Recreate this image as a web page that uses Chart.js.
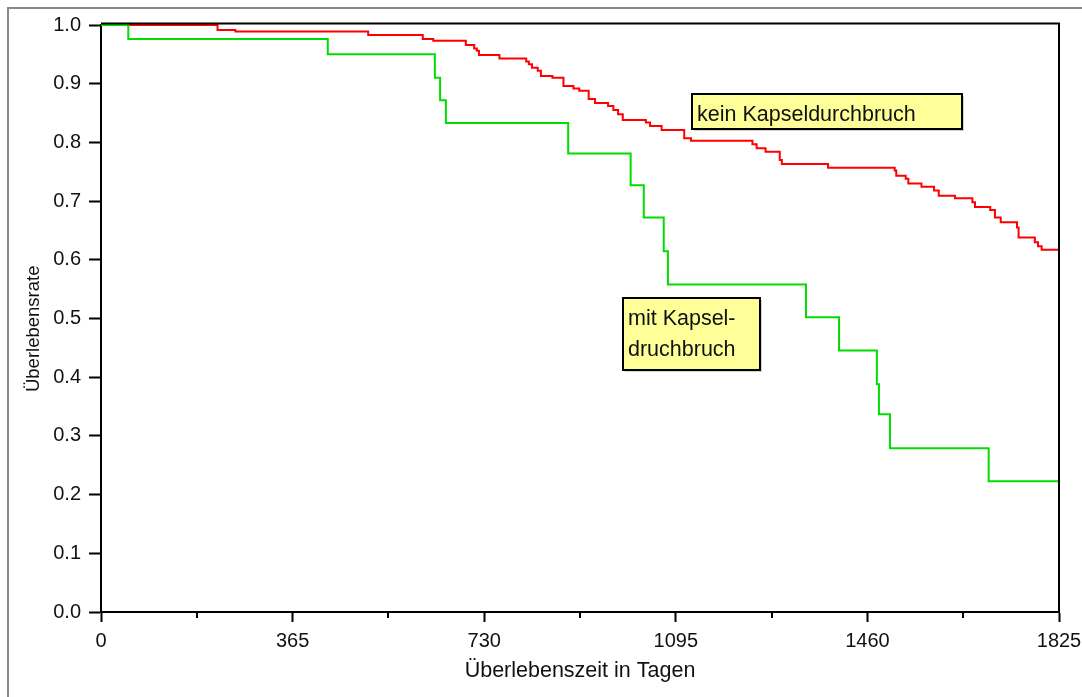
<!DOCTYPE html>
<html>
<head>
<meta charset="utf-8">
<script src="https://cdn.jsdelivr.net/npm/chart.js@4"></script>
<style>
  html, body { margin: 0; padding: 0; background: #fff; }
  #wrap { width: 1082px; height: 697px; }
</style>
</head>
<body>
<div id="wrap"><canvas id="km"></canvas></div>
<script>
// Kaplan-Meier Kurven (Tage, Überlebensrate)
const X_TICKS = [0, 365, 730, 1095, 1460, 1825];

const mitTage = [0, 52, 432, 636, 646, 657, 890, 1009, 1034, 1072, 1080, 1343, 1406, 1478, 1482, 1503, 1691, 1825];
const mitRate = [1.0, 0.976, 0.95, 0.910, 0.872, 0.833, 0.781, 0.727, 0.672, 0.6145, 0.558, 0.502, 0.4456, 0.388, 0.337, 0.279, 0.2228, 0.2228];

const keinTage = [0, 222, 256, 509, 613, 633, 695, 711, 716, 720, 759, 810, 815, 821, 832, 838, 860, 881, 900, 911,
    929, 941, 966, 976, 985, 994, 1038, 1046, 1068, 1111, 1124, 1241, 1249, 1266, 1293, 1297, 1385, 1512, 1515, 1533,
    1538, 1563, 1587, 1596, 1627, 1660, 1665, 1694, 1703, 1714, 1745, 1748, 1779, 1785, 1792, 1825];
const keinRate = [1.0, 0.9915, 0.989, 0.983, 0.976, 0.973, 0.966, 0.960, 0.956, 0.949, 0.943, 0.938, 0.933, 0.927, 0.922, 0.913, 0.910, 0.896, 0.892, 0.888,
    0.874, 0.867, 0.862, 0.855, 0.848, 0.838, 0.834, 0.828, 0.821, 0.807, 0.803, 0.797, 0.790, 0.784, 0.770, 0.763, 0.757, 0.752, 0.743, 0.738,
    0.730, 0.7245, 0.718, 0.709, 0.705, 0.698, 0.690, 0.685, 0.672, 0.664, 0.655, 0.638, 0.630, 0.623, 0.617, 0.617];

// Beschriftungen: Ankerpunkt (Tag, Rate) der linken oberen Ecke
const labels = [
    { lines: ["kein Kapseldurchbruch"], day: 1126, rate: 0.8827, w: 270, h: 35 },
    { lines: ["mit Kapsel-", "druchbruch"], day: 994, rate: 0.535, w: 137, h: 72 }
];

const FONT = "'Liberation Sans', Arial, sans-serif";

function toPoints(xs, ys) {
    return xs.map((x, i) => ({ x: x, y: ys[i] }));
}

const frame = {
    id: "frame",
    beforeDraw(chart) {
        const ctx = chart.ctx;
        ctx.save();
        ctx.fillStyle = "#fff";
        ctx.fillRect(0, 0, chart.width, chart.height);
        ctx.strokeStyle = "#888";
        ctx.lineWidth = 2;
        ctx.beginPath();
        ctx.moveTo(8, chart.height);
        ctx.lineTo(8, 8);
        ctx.lineTo(chart.width, 8);
        ctx.stroke();
        ctx.restore();
    },
    afterDraw(chart) {
        const ctx = chart.ctx;
        const a = chart.chartArea;
        const xs = chart.scales.x;
        ctx.save();

        // oberer + rechter Rahmen
        ctx.strokeStyle = "#000";
        ctx.lineWidth = 2;
        ctx.beginPath();
        ctx.moveTo(a.left, a.top - 1.5);
        ctx.lineTo(a.right, a.top - 1.5);
        ctx.moveTo(a.right, a.top - 2.5);
        ctx.lineTo(a.right, a.bottom);
        ctx.stroke();

        // Zwischenstriche
        ctx.beginPath();
        for (let i = 0; i < X_TICKS.length - 1; i++) {
            const px = Math.round(xs.getPixelForValue((X_TICKS[i] + X_TICKS[i + 1]) / 2));
            ctx.moveTo(px, a.bottom);
            ctx.lineTo(px, a.bottom + 6);
        }
        ctx.stroke();

        // gelbe Kästen
        ctx.font = "21.5px " + FONT;
        ctx.textBaseline = "alphabetic";
        labels.forEach(l => {
            const x = Math.round(xs.getPixelForValue(l.day));
            const y = Math.round(chart.scales.y.getPixelForValue(l.rate));
            ctx.fillStyle = "rgba(0,0,0,0.18)";
            ctx.fillRect(x + 2, y + 2, l.w, l.h);
            ctx.fillStyle = "#ffff99";
            ctx.fillRect(x, y, l.w, l.h);
            ctx.strokeStyle = "#000";
            ctx.lineWidth = 2;
            ctx.strokeRect(x, y, l.w, l.h);
            ctx.fillStyle = "#111";
            l.lines.forEach((t, i) => ctx.fillText(t, x + 5, y + 27 + i * 31));
        });
        ctx.restore();
    }
};

new Chart(document.getElementById("km"), {
    type: "line",
    data: {
        datasets: [
            {
                label: "mit Kapseldurchbruch",
                data: toPoints(mitTage, mitRate),
                borderColor: "#00dd00",
                borderWidth: 2,
                stepped: true,
                pointRadius: 0,
                fill: false,
                clip: 6
            },
            {
                label: "kein Kapseldurchbruch",
                data: toPoints(keinTage, keinRate),
                borderColor: "#ff0000",
                borderWidth: 2,
                stepped: true,
                pointRadius: 0,
                fill: false,
                clip: 6
            }
        ]
    },
    options: {
        responsive: true,
        maintainAspectRatio: false,
        animation: false,
        devicePixelRatio: 1,
        layout: { padding: { left: 0, top: 25, right: 23, bottom: 0 } },
        plugins: {
            legend: { display: false },
            tooltip: { enabled: false }
        },
        scales: {
            x: {
                type: "linear",
                min: 0,
                max: 1825,
                afterBuildTicks: s => { s.ticks = X_TICKS.map(v => ({ value: v })); },
                afterFit: s => { s.height = 85; s.paddingLeft = 0; s.paddingRight = 0; },
                grid: { drawOnChartArea: false, drawTicks: true, tickLength: 10, tickWidth: 2, tickColor: "#000" },
                border: { display: true, color: "#000", width: 2 },
                ticks: { color: "#111", font: { family: FONT, size: 20 }, padding: 7, maxRotation: 0, callback: v => String(v) },
                title: { display: true, text: "Überlebenszeit in Tagen", color: "#111", font: { family: FONT, size: 21.5 }, padding: { bottom: 13 } }
            },
            y: {
                min: 0,
                max: 1,
                afterFit: s => { s.width = 101; },
                grid: { drawOnChartArea: false, drawTicks: true, tickLength: 12, tickWidth: 2, tickColor: "#000" },
                border: { display: true, color: "#000", width: 2 },
                ticks: { stepSize: 0.1, color: "#111", font: { family: FONT, size: 20 }, padding: 8, callback: v => v.toFixed(1) },
                title: { display: true, text: "Überlebensrate    ", color: "#111", font: { family: FONT, size: 18.5 }, padding: { top: 23 } }
            }
        }
    },
    plugins: [frame]
});
</script>
</body>
</html>
